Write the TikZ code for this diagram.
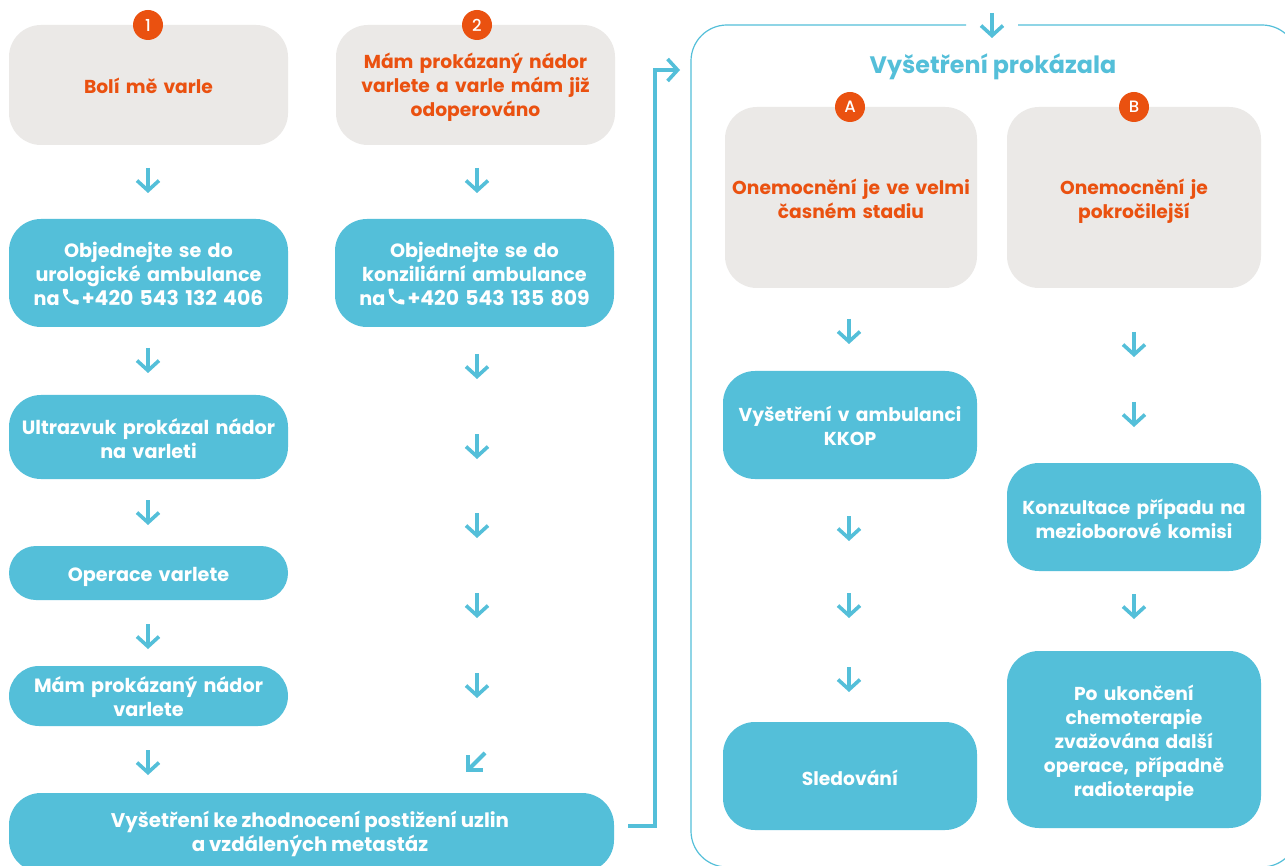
\documentclass[tikz,border=0pt]{standalone}
\usepackage{fontspec}
\setmainfont{Poppins}[UprightFont=* Medium,BoldFont=* Bold,WordSpace=0.9]
\usetikzlibrary{arrows.meta}
\definecolor{tealc}{HTML}{54BFD9}
\definecolor{greyc}{HTML}{EBE9E7}
\definecolor{orangec}{HTML}{EA5110}
\tikzset{
  x=1pt,y=-1pt,
  bluebox/.style={fill=tealc,text=white,draw=none},
  greybox/.style={fill=greyc,text=orangec,draw=none},
  boxfont/.style={font=\fontsize{18.7}{24}\selectfont\bfseries},
  badge/.style={circle,fill=orangec,text=white,minimum size=30pt,inner sep=0pt,font=\fontsize{16.5}{18}\selectfont},
  conn/.style={draw=tealc,line width=3.4pt,-{Straight Barb[length=10pt,width=22pt,line width=3.6pt]}},
}
\newcommand{\bigsz}{\fontsize{19.2}{24}\selectfont}
\newcommand{\numsz}[1]{{\fontsize{20.4}{24}\selectfont #1}}
% box macro: name, style, x0, y0, x1, y1, radius, text dy, text
\newcommand{\flowbox}[9]{%
  \path[#2,rounded corners=#7pt] (#3,#4) rectangle (#5,#6);
  \pgfmathsetmacro{\bcx}{(#3+#5)/2}\pgfmathsetmacro{\bcy}{(#4+#6)/2+2+#8}\pgfmathsetmacro{\bwd}{#5-#3-2}
  \node[#2,fill=none,inner sep=0pt,align=center,text width=\bwd pt,boxfont] (#1) at (\bcx,\bcy) {#9};
}
\newcommand{\downarr}[3]{%
  \coordinate (#1s) at (#2,#3-12);\coordinate (#1e) at (#2,#3+13);
  \draw[conn] (#1s) -- (#1e);
}
\newcommand{\phoneicon}{\tikz[baseline={(0,19.5)},x=0.88pt,y=-0.88pt]{\fill[white] (6.62,10.79) .. controls (8.06,13.62) and (10.38,15.93) .. (13.21,17.38) -- (15.41,15.18) .. controls (15.68,14.91) and (16.08,14.82) .. (16.43,14.94) .. controls (17.55,15.31) and (18.76,15.51) .. (20,15.51) .. controls (20.55,15.51) and (21,15.96) .. (21,16.51) -- (21,20) .. controls (21,20.55) and (20.55,21) .. (20,21) .. controls (10.61,21) and (3,13.39) .. (3,4) .. controls (3,3.45) and (3.45,3) .. (4,3) -- (7.5,3) .. controls (8.05,3) and (8.5,3.45) .. (8.5,4) .. controls (8.5,5.25) and (8.7,6.45) .. (9.07,7.57) .. controls (9.18,7.92) and (9.1,8.31) .. (8.82,8.59) -- cycle;}}
\begin{document}
\begin{tikzpicture}
\useasboundingbox (0,0) rectangle (1285,866);
\path[fill=white] (0,0) rectangle (1285,866);
% frame
\coordinate (fa) at (966,25);\coordinate (fb) at (1018,25);
\draw[tealc,line width=1.2pt,rounded corners=36pt] (fa) -- (691,25) -- (691,867) -- (1298,867) -- (1298,25) -- (fb);
% left
\flowbox{g1}{greybox}{9}{25}{288}{145}{32}{-1}{Bolí mě varle}
\flowbox{g2}{greybox}{336}{25}{615}{145}{32}{0.5}{Mám prokázaný nádor\\varlete a varle mám již\\odoperováno}
\flowbox{b1}{bluebox}{9}{219}{288}{327}{32}{-1}{\bigsz Objednejte se do\\urologické ambulance\\na\,\phoneicon{}\,\numsz{+420 543 132 406}}
\flowbox{b2}{bluebox}{335}{219}{614}{327}{32}{-1}{\bigsz Objednejte se do\\konziliární ambulance\\na\,\phoneicon{}\,\numsz{+420 543 135 809}}
\flowbox{b3}{bluebox}{9}{395}{288}{479}{32}{0}{\bigsz Ultrazvuk prokázal nádor\\na varleti}
\flowbox{b4}{bluebox}{9}{546}{288}{600}{27}{2}{\bigsz Operace varlete}
\flowbox{b5}{bluebox}{9}{666}{288}{726}{30}{-1}{\bigsz Mám prokázaný nádor\\varlete}
\flowbox{b6}{bluebox}{9}{793}{614}{872}{32}{0}{}
\node[text=white,align=center,inner sep=0pt,font=\fontsize{19.8}{24}\selectfont\bfseries] (b6t) at (310,833.5) {Vyšetření ke zhodnocení postižení uzlin\\a vzdálených metastáz};
% right
\node[text=tealc,inner sep=0pt,font=\fontsize{23.8}{28}\selectfont\bfseries] (title) at (993,67) {Vyšetření prokázala};
\flowbox{ga}{greybox}{725}{107}{977}{288}{32}{-1}{Onemocnění je ve velmi\\časném stadiu}
\flowbox{gb}{greybox}{1007}{107}{1261}{288}{32}{1.5}{Onemocnění je\\pokročilejší}
\flowbox{c1}{bluebox}{723}{371}{977}{479}{32}{-1}{Vyšetření v ambulanci\\KKOP}
\flowbox{c2}{bluebox}{723}{722}{977}{830}{32}{0}{Sledování}
\flowbox{d1}{bluebox}{1007}{463}{1261}{571}{32}{-0.5}{Konzultace případu na\\mezioborové komisi}
\flowbox{d2}{bluebox}{1007}{651}{1261}{828}{32}{2}{Po ukončení\\chemoterapie\\zvažována další\\operace, případně\\radioterapie}
% badges
\node[badge] (n1) at (148,25) {1};
\node[badge] (n2) at (477,25) {2};
\node[badge] (na) at (850,107) {A};
\node[badge] (nb) at (1134,107) {B};
% arrows
\downarr{l1}{148}{180}\downarr{l2}{148}{360}\downarr{l3}{148}{512}\downarr{l4}{148}{636}\downarr{l5}{148}{762}
\downarr{m1}{477}{180}\downarr{m2}{477}{366}\downarr{m3}{477}{446}\downarr{m4}{477}{525}\downarr{m5}{477}{605}\downarr{m6}{477}{685}
\downarr{t}{992}{25}
\downarr{a1}{849}{331}\downarr{a2}{849}{528}\downarr{a3}{849}{605}\downarr{a4}{849}{679}
\downarr{e1}{1134}{344}\downarr{e2}{1134}{414}\downarr{e3}{1134}{606}
\coordinate (ds) at (485,753);\coordinate (de) at (469,769);
\draw[tealc,line width=4pt] (ds) -- (de);
\draw[tealc,line width=4pt] (468,755) -- (468,770) -- (483,770);
\coordinate (rs) at (628,826);\coordinate (re) at (680,70);
\draw[conn] (rs) -- (655,826) -- (655,70) -- (re);
\end{tikzpicture}
\end{document}
